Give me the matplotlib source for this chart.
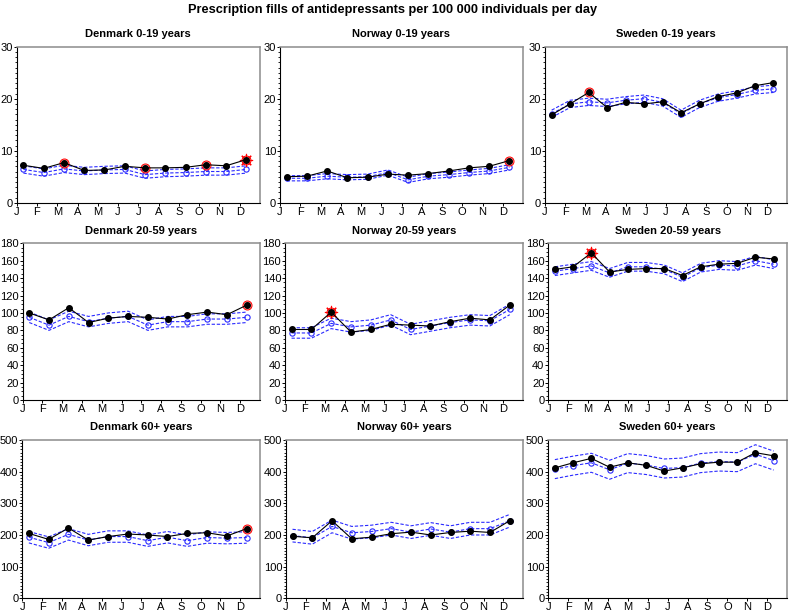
import matplotlib
matplotlib.use('Agg')
import matplotlib.pyplot as plt
from matplotlib.ticker import MultipleLocator

plt.rcParams['font.family'] = ['Liberation Sans', 'DejaVu Sans']

months = ['J', 'F', 'M', 'A', 'M', 'J', 'J', 'A', 'S', 'O', 'N', 'D']
titles = [['Denmark 0-19 years', 'Norway 0-19 years', 'Sweden 0-19 years'],
          ['Denmark 20-59 years', 'Norway 20-59 years', 'Sweden 20-59 years'],
          ['Denmark 60+ years', 'Norway 60+ years', 'Sweden 60+ years']]
y_max = [30, 180, 500]
y_major = [10, 20, 100]
y_minor = [1, 5, 10]

# observed fills (black), expected (blue open circles), lower/upper limits (blue dashed)
dk_0_19_obs = [7.2, 6.6, 7.7, 6.2, 6.3, 7.0, 6.7, 6.7, 6.8, 7.3, 7.1, 8.3]
dk_0_19_exp = [6.4, 5.8, 6.5, 6.1, 6.3, 6.4, 5.4, 5.7, 5.8, 6.0, 6.0, 6.4]
dk_0_19_hi = [7.1, 6.5, 7.2, 6.8, 7.0, 7.1, 6.1, 6.4, 6.5, 6.7, 6.7, 7.1]
dk_0_19_lo = [5.7, 5.1, 5.8, 5.4, 5.6, 5.7, 4.7, 5.0, 5.1, 5.3, 5.3, 5.7]

no_0_19_obs = [5.0, 5.1, 6.1, 4.8, 4.9, 5.5, 5.3, 5.6, 6.1, 6.7, 7.0, 8.1]
no_0_19_exp = [4.7, 4.7, 5.1, 4.9, 5.0, 5.8, 4.4, 5.1, 5.4, 5.8, 6.1, 6.8]
no_0_19_hi = [5.2, 5.2, 5.6, 5.4, 5.5, 6.3, 4.9, 5.6, 5.9, 6.3, 6.6, 7.3]
no_0_19_lo = [4.2, 4.2, 4.6, 4.4, 4.5, 5.3, 3.9, 4.6, 4.9, 5.3, 5.6, 6.3]

se_0_19_obs = [16.9, 19.0, 21.2, 18.3, 19.3, 19.0, 19.4, 17.3, 19.0, 20.4, 21.1, 22.5, 23.1]
se_0_19_exp = [17.1, 19.0, 19.4, 19.2, 19.7, 20.0, 19.3, 17.1, 19.0, 20.2, 20.8, 21.6, 21.9]
se_0_19_hi = [17.8, 19.7, 20.1, 19.9, 20.4, 20.7, 20.0, 17.8, 19.7, 20.9, 21.5, 22.3, 22.6]
se_0_19_lo = [16.4, 18.3, 18.7, 18.5, 19.0, 19.3, 18.6, 16.4, 18.3, 19.5, 20.1, 20.9, 21.2]

dk_20_59_obs = [100, 92, 106, 89, 94, 96, 95, 93, 98, 101, 98, 109]
dk_20_59_exp = [95, 86, 96, 90, 94, 96, 86, 90, 90, 93, 93, 95]
dk_20_59_hi = [101, 92, 102, 96, 100, 102, 92, 96, 96, 99, 99, 101]
dk_20_59_lo = [89, 80, 90, 84, 88, 90, 80, 84, 84, 87, 87, 89]

no_20_59_obs = [81, 81, 101, 78, 81, 87, 86, 85, 90, 94, 92, 109]
no_20_59_exp = [77, 77, 88, 84, 86, 92, 81, 85, 89, 92, 91, 104]
no_20_59_hi = [83, 83, 94, 90, 92, 98, 87, 91, 95, 98, 97, 110]
no_20_59_lo = [71, 71, 82, 78, 80, 86, 75, 79, 83, 86, 85, 98]

se_20_59_obs = [150, 153, 169, 147, 150, 151, 151, 143, 153, 156, 157, 164, 162]
se_20_59_exp = [148, 151, 154, 146, 153, 153, 150, 141, 152, 155, 154, 160, 156]
se_20_59_hi = [153, 156, 159, 151, 158, 158, 155, 146, 157, 160, 159, 165, 161]
se_20_59_lo = [143, 146, 149, 141, 148, 148, 145, 136, 147, 150, 149, 155, 151]

dk_60_obs = [205, 186, 222, 184, 195, 203, 200, 195, 205, 207, 197, 220]
dk_60_exp = [193, 176, 202, 184, 195, 195, 182, 193, 182, 192, 190, 192]
dk_60_hi = [211, 194, 220, 202, 213, 213, 200, 211, 200, 210, 208, 210]
dk_60_lo = [175, 158, 184, 166, 177, 177, 164, 175, 164, 174, 172, 174]

no_60_obs = [196, 191, 245, 188, 193, 204, 209, 200, 208, 212, 208, 245]
no_60_exp = [198, 191, 227, 207, 211, 220, 209, 219, 209, 220, 220, 245]
no_60_hi = [218, 211, 247, 227, 231, 240, 229, 239, 229, 240, 240, 265]
no_60_lo = [178, 171, 207, 187, 191, 200, 189, 199, 189, 200, 200, 225]

se_60_obs = [412, 428, 442, 414, 428, 420, 402, 412, 425, 430, 430, 460, 450]
se_60_exp = [408, 419, 428, 406, 427, 421, 410, 413, 427, 432, 430, 455, 435]
se_60_hi = [438, 449, 458, 436, 457, 451, 440, 443, 457, 462, 460, 485, 465]
se_60_lo = [378, 389, 398, 376, 397, 391, 380, 383, 397, 402, 400, 425, 405]

# flagged periods: red circle = signal, red star = strong signal
dk_0_19_circle, dk_0_19_star = [2, 6, 9], [11]
no_0_19_circle, no_0_19_star = [11], []
se_0_19_circle, se_0_19_star = [2], []
dk_20_59_circle, dk_20_59_star = [11], []
no_20_59_circle, no_20_59_star = [], [2]
se_20_59_circle, se_20_59_star = [], [2]
dk_60_circle, dk_60_star = [11], []
no_60_circle, no_60_star = [], []
se_60_circle, se_60_star = [], []

panels = [
    [(dk_0_19_obs, dk_0_19_exp, dk_0_19_lo, dk_0_19_hi, dk_0_19_circle, dk_0_19_star),
     (no_0_19_obs, no_0_19_exp, no_0_19_lo, no_0_19_hi, no_0_19_circle, no_0_19_star),
     (se_0_19_obs, se_0_19_exp, se_0_19_lo, se_0_19_hi, se_0_19_circle, se_0_19_star)],
    [(dk_20_59_obs, dk_20_59_exp, dk_20_59_lo, dk_20_59_hi, dk_20_59_circle, dk_20_59_star),
     (no_20_59_obs, no_20_59_exp, no_20_59_lo, no_20_59_hi, no_20_59_circle, no_20_59_star),
     (se_20_59_obs, se_20_59_exp, se_20_59_lo, se_20_59_hi, se_20_59_circle, se_20_59_star)],
    [(dk_60_obs, dk_60_exp, dk_60_lo, dk_60_hi, dk_60_circle, dk_60_star),
     (no_60_obs, no_60_exp, no_60_lo, no_60_hi, no_60_circle, no_60_star),
     (se_60_obs, se_60_exp, se_60_lo, se_60_hi, se_60_circle, se_60_star)],
]

W, H = 790, 613
row_top = [46.7, 243.3, 440]
row_bot = [202.7, 400, 598.3]
lefts = [[16.7, 280, 545], [22.7, 285, 548.3], [22.3, 286, 548.3]]
rights = [260, 523, 787]

blue = '#2a2aff'
fig = plt.figure(figsize=(W / 100, H / 100), dpi=100)
fig.text(0.4975, 1 - 10 / H, 'Prescription fills of antidepressants per 100 000 individuals per day',
         ha='center', va='center', fontsize=9.2, fontweight='bold')

for r in range(3):
    for c in range(3):
        obs, exp, lo, hi, circ, star = panels[r][c]
        l = lefts[r][c]
        ax = fig.add_axes([l / W, 1 - row_bot[r] / H, (rights[c] - l) / W, (row_bot[r] - row_top[r]) / H])

        n = len(obs)
        # points sit a third into the month; Sweden uses 13 periods over the same span
        x = [0.33 + i * 11 / (n - 1) for i in range(n)]

        for band in (lo, hi):
            ax.plot(x, band, color=blue, lw=0.8, dashes=(3, 1.6), zorder=2)
        ax.plot(x, exp, color=blue, lw=0.8, dashes=(3, 1.6), marker='o', ms=3.8,
                mfc='none', mec=blue, mew=0.8, zorder=3)

        for i in circ + star:
            ax.plot(x[i], obs[i], 'o', ms=6.5, mfc=(1, 0.35, 0.35, 0.5), mec='red', mew=0.7, zorder=4)
        for i in star:
            ax.plot(x[i], obs[i], marker=(8, 2, 0), ms=9.5, color='red', mew=0.8, zorder=4)

        ax.plot(x, obs, color='black', lw=0.8, marker='o', ms=4, mfc='black', mec='black', zorder=5)

        ax.set_xlim(0, 12)
        ax.set_ylim(0, y_max[r])
        ax.set_xticks(range(12))
        ax.set_xticklabels(months)
        ax.yaxis.set_major_locator(MultipleLocator(y_major[r]))
        ax.yaxis.set_minor_locator(MultipleLocator(y_minor[r]))
        ax.tick_params(axis='both', labelsize=8, length=2, width=0.7, pad=0.8)
        ax.tick_params(axis='y', which='minor', length=1.2, width=0.6)
        for side in ('top', 'right'):
            ax.spines[side].set_color('#8c8c8c')
            ax.spines[side].set_linewidth(1.1)
        for side in ('left', 'bottom'):
            ax.spines[side].set_linewidth(0.8)
        ax.set_title(titles[r][c], fontsize=8, fontweight='bold', pad=7)

fig.savefig('out.png', dpi=100)
